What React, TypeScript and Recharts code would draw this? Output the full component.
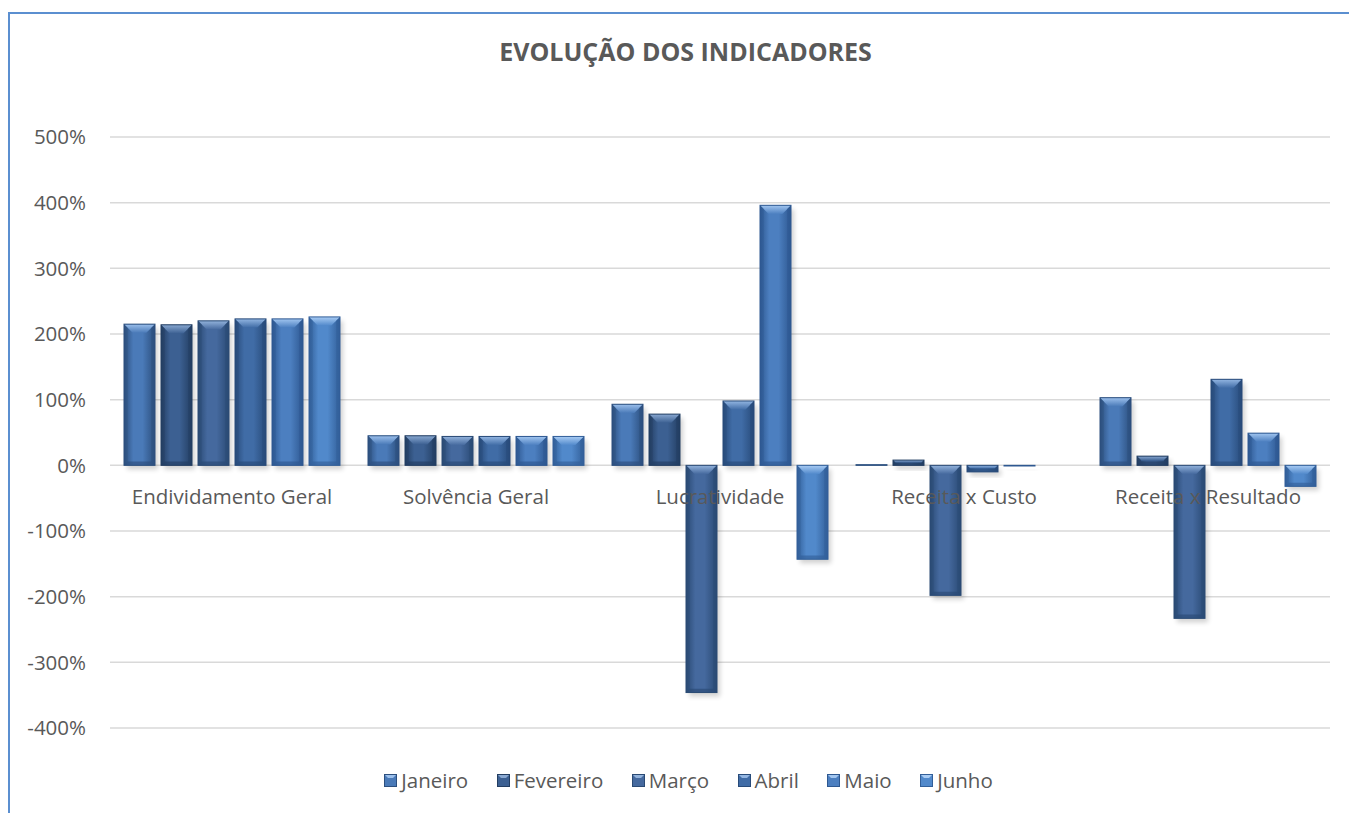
import React from "react";
import { BarChart, Bar, XAxis, YAxis, CartesianGrid, Legend } from "recharts";

const categories = ["Endividamento Geral", "Solvência Geral", "Lucratividade", "Receita x Custo", "Receita x Resultado"];
const months = ["Janeiro", "Fevereiro", "Março", "Abril", "Maio", "Junho"];
const janeiro = [215, 45, 93, 1, 103];
const fevereiro = [214, 45, 78, 8, 14];
const marco = [220, 44, -346, -198, -233];
const abril = [223, 44, 98, -10, 131];
const maio = [223, 44, 396, -1, 49];
const junho = [226, 44, -143, 0, -32];
const yTicks = [-400, -300, -200, -100, 0, 100, 200, 300, 400, 500];
const title = "EVOLUÇÃO DOS INDICADORES";

const seriesValues = [janeiro, fevereiro, marco, abril, maio, junho];
const keys = ["jan", "fev", "mar", "abr", "mai", "jun"];
const baseColors = ["#4a7ab8", "#3c6092", "#45699e", "#406ca6", "#4c7fc0", "#5189cb"];
const lightColors = ["#9cc0ec", "#8aa9d2", "#93b3dc", "#93b6e2", "#a2c6f0", "#a9ccf4"];
const darkColors = ["#2c4f7e", "#233e62", "#2a4a74", "#284b7a", "#2e5891", "#325f99"];

const data = categories.map((c, i) => {
  const row: any = { name: c };
  keys.forEach((k, j) => (row[k] = seriesValues[j][i]));
  return row;
});

const W = 1341;
const H = 801;
const M_TOP = 125;
const M_BOTTOM = 65;
const X_AX_H = 20;
const PLOT_H = H - M_TOP - M_BOTTOM - X_AX_H;
const DOMAIN: [number, number] = [-400, 500];
const ZERO_Y = M_TOP + (PLOT_H * DOMAIN[1]) / (DOMAIN[1] - DOMAIN[0]);
const TEXT = "#595959";
const FONT = "'Open Sans', sans-serif";
const FS = 20.5;

const makeShape = (idx: number) => (props: any) => {
  let { x, y, width, height } = props;
  if (height == null || width == null) return null;
  if (height < 0) {
    y = y + height;
    height = -height;
  }
  if (height < 0.5) return null;
  const d = Math.min(width * 0.28, height / 2);
  const s = Math.min(width * 0.12, height / 2);
  return (
    <g>
      <rect x={x + 3} y={y + 4} width={width} height={height} fill="#000" opacity={0.18} filter="url(#shadowBlur)" />
      <rect x={x} y={y} width={width} height={height} fill={`url(#body${idx})`} />
      <polygon points={`${x},${y} ${x + width},${y} ${x + width - d},${y + d} ${x + d},${y + d}`} fill={`url(#top${idx})`} />
      <polygon points={`${x},${y} ${x + s},${y + Math.min(d, s)} ${x + s},${y + height - s} ${x},${y + height}`} fill={darkColors[idx]} opacity={0.4} />
      <polygon points={`${x + width},${y} ${x + width - s},${y + Math.min(d, s)} ${x + width - s},${y + height - s} ${x + width},${y + height}`} fill={darkColors[idx]} opacity={0.55} />
      <polygon points={`${x},${y + height} ${x + s},${y + height - s} ${x + width - s},${y + height - s} ${x + width},${y + height}`} fill={darkColors[idx]} opacity={0.65} />
      <rect x={x} y={y} width={width} height={height} fill="none" stroke={darkColors[idx]} strokeWidth={1} />
    </g>
  );
};

const CategoryTick = (props: any) => {
  const { x, payload } = props;
  return (
    <text x={x} y={ZERO_Y + 39} textAnchor="middle" fill={TEXT} fontSize={FS} fontFamily={FONT}>
      {payload.value}
    </text>
  );
};

const LegendContent = () => (
  <div style={{ display: "flex", justifyContent: "center", alignItems: "center", fontFamily: FONT, fontSize: FS, color: TEXT }}>
    {months.map((m, i) => (
      <div key={m} style={{ display: "flex", alignItems: "center", marginRight: i < months.length - 1 ? 28.5 : 0 }}>
        <svg width={13} height={13} style={{ marginRight: 4 }}>
          <rect x={0} y={0} width={13} height={13} fill={baseColors[i]} />
          <polygon points="0,0 13,0 9,4 4,4" fill={lightColors[i]} />
          <rect x={0.5} y={0.5} width={12} height={12} fill="none" stroke={darkColors[i]} />
        </svg>
        <span>{m}</span>
      </div>
    ))}
  </div>
);

export default function App() {
  return (
    <div
      style={{
        position: "absolute",
        left: 8,
        top: 12,
        width: W,
        height: H,
        borderLeft: "2px solid #5b8fd0",
        borderTop: "2px solid #5b8fd0",
        boxSizing: "border-box",
        overflow: "hidden",
        background: "#fff",
      }}
    >
      <div
        style={{
          position: "absolute",
          top: 20,
          left: 0,
          width: W,
          textAlign: "center",
          fontFamily: FONT,
          fontWeight: 700,
          fontSize: 25,
          color: TEXT,
          paddingLeft: 10,
          boxSizing: "border-box",
        }}
      >
        {title}
      </div>
      <div style={{ position: "absolute", left: -2, top: -2 }}>
        <BarChart
          width={W}
          height={H}
          data={data}
          margin={{ top: M_TOP, right: 19, bottom: M_BOTTOM, left: 8 }}
          barSize={31}
          barGap={6}
        >
          <defs>
            <filter id="shadowBlur" x="-30%" y="-30%" width="160%" height="160%">
              <feGaussianBlur stdDeviation="2.5" />
            </filter>
            {baseColors.map((c, i) => (
              <linearGradient key={"b" + i} id={`body${i}`} x1="0" y1="0" x2="1" y2="0">
                <stop offset="0%" stopColor={darkColors[i]} />
                <stop offset="30%" stopColor={c} />
                <stop offset="60%" stopColor={c} />
                <stop offset="100%" stopColor={darkColors[i]} />
              </linearGradient>
            ))}
            {baseColors.map((c, i) => (
              <linearGradient key={"t" + i} id={`top${i}`} x1="0" y1="0" x2="0" y2="1">
                <stop offset="0%" stopColor={lightColors[i]} />
                <stop offset="100%" stopColor={c} />
              </linearGradient>
            ))}
          </defs>
          <CartesianGrid horizontal vertical={false} stroke="#d9d9d9" strokeWidth={1.5} />
          <XAxis dataKey="name" height={X_AX_H} axisLine={false} tickLine={false} tick={<CategoryTick />} interval={0} />
          <YAxis
            domain={DOMAIN}
            ticks={yTicks}
            width={94}
            axisLine={false}
            tickLine={false}
            tickSize={0}
            tickMargin={24}
            tickFormatter={(v: number) => `${v}%`}
            tick={{ fill: TEXT, fontSize: FS, fontFamily: FONT }}
          />
          <Legend
            layout="horizontal"
            verticalAlign="middle"
            align="center"
            content={<LegendContent />}
            wrapperStyle={{ top: 754, left: 10, width: W, height: 30 }}
          />
          {keys.map((k, i) => (
            <Bar key={k} dataKey={k} name={months[i]} fill={baseColors[i]} shape={makeShape(i)} isAnimationActive={false} />
          ))}
        </BarChart>
      </div>
    </div>
  );
}
